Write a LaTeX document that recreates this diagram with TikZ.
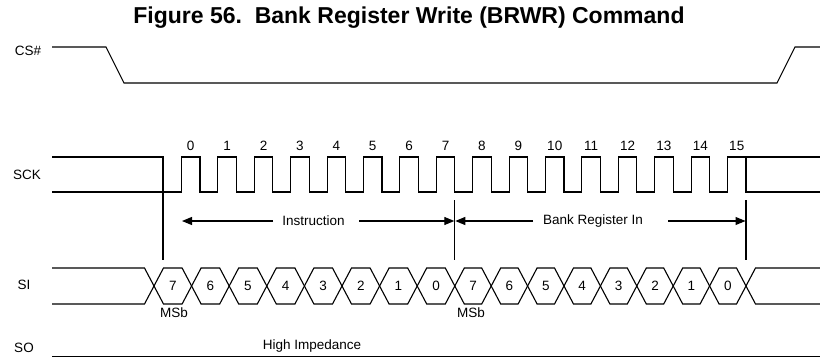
\documentclass[tikz,border=0pt]{standalone}
\usepackage{fontspec}
\setmainfont{Liberation Sans}
\usetikzlibrary{arrows.meta}
\begin{document}
\begin{tikzpicture}[x=1pt,y=-1pt,
  wave/.style={line width=1.1pt, line join=miter},
  lbl/.style={font=\fontsize{13.5}{16}\selectfont, inner sep=0pt},
  arr/.style={line width=1.1pt, -{Triangle[length=10pt,width=8pt]}}]
\useasboundingbox (0,0) rectangle (820,364);
% title
\node[inner sep=0pt, font=\bfseries\fontsize{23}{27}\selectfont] (title) at (409,18) {Figure 56.\ \ Bank Register Write (BRWR) Command};
% signal names
\node[lbl] (cs) at (28,51) {CS\#};
\node[lbl] (sck) at (27,175) {SCK};
\node[lbl] (si) at (24,285) {SI};
\node[lbl] (so) at (24,348) {SO};
% CS#
\draw[wave] (52,47) -- (106,47) -- (124,83) -- (777,83) -- (795,47) -- (820,47);
% SCK
\draw[wave] (52,157) -- (163,157) -- (163,260);
\draw[wave] (52,192) foreach \k in {0,...,15} { -- ({181.5+36.4*\k},192) -- ++(0,-35) -- ++(18.5,0) -- ++(0,35) } -- (820,192);
\draw[wave] (746,157) -- (820,157);
\foreach \k in {0,...,15} {
  \node[lbl] (n\k) at ({181.5+36.4*\k+9.25},146) {\k};
}
% markers
\coordinate (m1) at (454.8,200);
\coordinate (m1b) at (454.8,260);
\coordinate (m2) at (746,200);
\coordinate (m2b) at (746,260);
\draw[wave] (m1) -- (m1b);
\draw[wave] (m2) -- (m2b);
% arrows
\node[lbl] (instr) at (313.5,221) {Instruction};
\node[lbl] (bank) at (593,221) {Bank Register In};
\coordinate (i1) at (273,221);
\coordinate (i1t) at (182,221);
\coordinate (i2) at (359,221);
\coordinate (i2t) at (454.3,221);
\coordinate (b1) at (533,221);
\coordinate (b1t) at (455.3,221);
\coordinate (b2) at (668,221);
\coordinate (b2t) at (745.5,221);
\draw[arr] (i1) -- (i1t);
\draw[arr] (i2) -- (i2t);
\draw[arr] (b1) -- (b1t);
\draw[arr] (b2) -- (b2t);
% SI
\draw[wave] (52,268) -- (144.5,268) -- (154,286) -- (144.5,304) -- (52,304);
\foreach \k/\d in {0/7,1/6,2/5,3/4,4/3,5/2,6/1,7/0,8/7,9/6,10/5,11/4,12/3,13/2,14/1,15/0} {
  \pgfmathsetmacro\ca{\k<8 ? 154+37.6*\k : 454.8+36.4*(\k-8)}
  \pgfmathsetmacro\cb{\k<8 ? 154+37.6*(\k+1) : 454.8+36.4*(\k-7)}
  \draw[wave] (\ca,286) -- (\ca+9.5,268) -- (\cb-9.5,268) -- (\cb,286) -- (\cb-9.5,304) -- (\ca+9.5,304) -- cycle;
  \node[lbl] (b\k) at ({(\ca+\cb)/2},286) {\d};
}
\draw[wave] (820,268) -- (755.5,268) -- (746,286) -- (755.5,304) -- (820,304);
\node[lbl] (msb1) at (174,313) {MSb};
\node[lbl] (msb2) at (471,313) {MSb};
% SO
\draw[wave] (52,356.7) -- (820,356.7);
\node[lbl] (hiz) at (312,346) {High Impedance};
\end{tikzpicture}
\end{document}
